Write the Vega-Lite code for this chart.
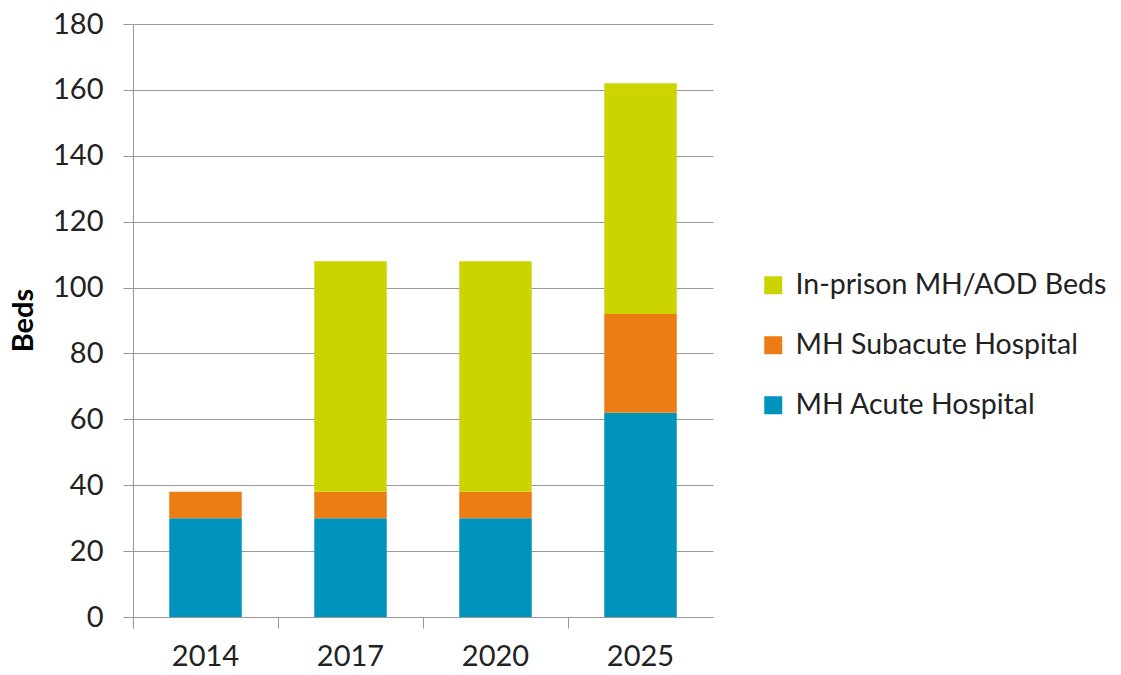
{
  "$schema": "https://vega.github.io/schema/vega-lite/v6.json",
  "autosize": "none",
  "width": 580,
  "height": 593,
  "padding": {"left": 133, "top": 24, "right": 408, "bottom": 58},
  "background": "white",
  "config": {
    "font": "Lato",
    "view": {"stroke": null}
  },
  "data": {
    "values": [
      {"year": "2014", "series": "MH Acute Hospital", "beds": 30, "rank": 1},
      {"year": "2014", "series": "MH Subacute Hospital", "beds": 8, "rank": 2},
      {"year": "2014", "series": "In-prison MH/AOD Beds", "beds": 0, "rank": 3},
      {"year": "2017", "series": "MH Acute Hospital", "beds": 30, "rank": 1},
      {"year": "2017", "series": "MH Subacute Hospital", "beds": 8, "rank": 2},
      {"year": "2017", "series": "In-prison MH/AOD Beds", "beds": 70, "rank": 3},
      {"year": "2020", "series": "MH Acute Hospital", "beds": 30, "rank": 1},
      {"year": "2020", "series": "MH Subacute Hospital", "beds": 8, "rank": 2},
      {"year": "2020", "series": "In-prison MH/AOD Beds", "beds": 70, "rank": 3},
      {"year": "2025", "series": "MH Acute Hospital", "beds": 62, "rank": 1},
      {"year": "2025", "series": "MH Subacute Hospital", "beds": 30, "rank": 2},
      {"year": "2025", "series": "In-prison MH/AOD Beds", "beds": 70, "rank": 3}
    ]
  },
  "mark": {"type": "bar", "width": {"band": 0.5}},
  "encoding": {
    "x": {
      "field": "year",
      "type": "ordinal",
      "scale": {"paddingInner": 0, "paddingOuter": 0},
      "axis": {
        "title": null,
        "labelAngle": 0,
        "labelFontSize": 29,
        "labelColor": "#222222",
        "labelPadding": 14,
        "bandPosition": 0,
        "tickExtra": true,
        "tickSize": 11,
        "tickColor": "#9a9a9a",
        "domainColor": "#9a9a9a",
        "labelBound": false,
        "grid": false
      }
    },
    "y": {
      "field": "beds",
      "type": "quantitative",
      "stack": "zero",
      "scale": {"domain": [0, 180], "nice": false},
      "axis": {
        "values": [0, 20, 40, 60, 80, 100, 120, 140, 160, 180],
        "title": "Beds",
        "titleFontSize": 29,
        "titleFontWeight": "bold",
        "titleColor": "#000000",
        "titleX": -110,
        "titleY": 296,
        "titleAngle": -90,
        "titleAlign": "center",
        "titleBaseline": "middle",
        "labelFontSize": 29,
        "labelColor": "#222222",
        "labelPadding": 20,
        "tickSize": 10,
        "tickColor": "#9a9a9a",
        "domainColor": "#9a9a9a",
        "gridColor": "#9a9a9a",
        "grid": true
      }
    },
    "color": {
      "field": "series",
      "type": "nominal",
      "scale": {
        "domain": ["In-prison MH/AOD Beds", "MH Subacute Hospital", "MH Acute Hospital"],
        "range": ["#CCD400", "#EC7C14", "#0093BC"]
      },
      "legend": {
        "title": null,
        "orient": "none",
        "legendX": 626,
        "legendY": 247,
        "symbolType": "square",
        "symbolSize": 324,
        "symbolStrokeWidth": 0,
        "labelFontSize": 28.5,
        "labelColor": "#222222",
        "labelOffset": 8,
        "rowPadding": 31,
        "labelLimit": 400
      }
    },
    "order": {"field": "rank", "type": "quantitative"}
  }
}
